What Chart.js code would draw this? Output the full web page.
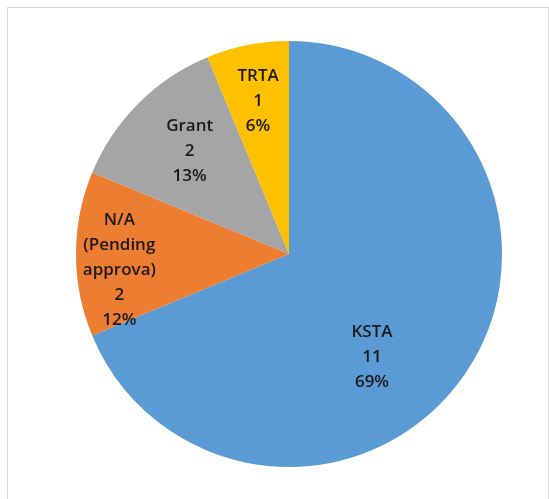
<!DOCTYPE html>
<html>
<head>
<meta charset="utf-8">
<script src="https://cdn.jsdelivr.net/npm/chart.js@4"></script>
<style>
  html, body { margin: 0; padding: 0; background: #fff; }
  #wrap { position: relative; width: 549px; height: 499px; overflow: hidden; }
  #frame { position: absolute; left: 7px; top: 7px; width: 540px; height: 520px; border: 1px solid #dcdcdc; }
  canvas { position: absolute; left: 0; top: 0; }
</style>
</head>
<body>
<div id="wrap">
  <div id="frame"></div>
  <canvas id="pieChart" width="549" height="499"></canvas>
</div>
<script>
// data
var categories = ['KSTA', 'N/A\n(Pending\napprova)', 'Grant', 'TRTA'];
var counts = [11, 2, 2, 1];
var percentLabels = ['69%', '12%', '13%', '6%'];
var sliceColors = ['#5B9BD5', '#ED7D31', '#A5A5A5', '#FFC000'];

// where in each slice the label sits: share of the slice angle, share of the radius
var labelSpot = [
    { along: 0.57, out: 0.62 },
    { along: 0.38, out: 0.80 },
    { along: 0.52, out: 0.67 },
    { along: 0.49, out: 0.73 }
];

var sliceLabels = {
    id: 'sliceLabels',
    afterDatasetsDraw: function (chart) {
        var ctx = chart.ctx;
        var arcs = chart.getDatasetMeta(0).data;
        ctx.save();
        ctx.font = '600 17px "Open Sans"';
        ctx.fillStyle = '#1a1a1a';
        ctx.textAlign = 'center';
        ctx.textBaseline = 'middle';
        arcs.forEach(function (arc, i) {
            var spot = labelSpot[i];
            var a = arc.startAngle + (arc.endAngle - arc.startAngle) * spot.along;
            var r = arc.outerRadius * spot.out;
            var cx = arc.x + Math.cos(a) * r;
            var cy = arc.y + Math.sin(a) * r;
            var lines = categories[i].split('\n').concat([String(counts[i]), percentLabels[i]]);
            var lh = 25;
            var y0 = cy - (lines.length - 1) * lh / 2;
            lines.forEach(function (t, k) {
                ctx.fillText(t, cx, y0 + k * lh);
            });
        });
        ctx.restore();
    }
};

var pieCanvas = document.getElementById('pieChart').getContext('2d');
var pieChart = new Chart(pieCanvas, {
    type: 'pie',
    data: {
        labels: categories,
        datasets: [{
            data: counts,
            backgroundColor: sliceColors,
            borderColor: '#ffffff',
            borderWidth: 0
        }]
    },
    options: {
        responsive: false,
        animation: false,
        layout: {
            padding: { left: 76, right: 47, top: 41, bottom: 32 }
        },
        plugins: {
            legend: { display: false },
            tooltip: { enabled: false }
        }
    },
    plugins: [sliceLabels]
});
</script>
</body>
</html>
